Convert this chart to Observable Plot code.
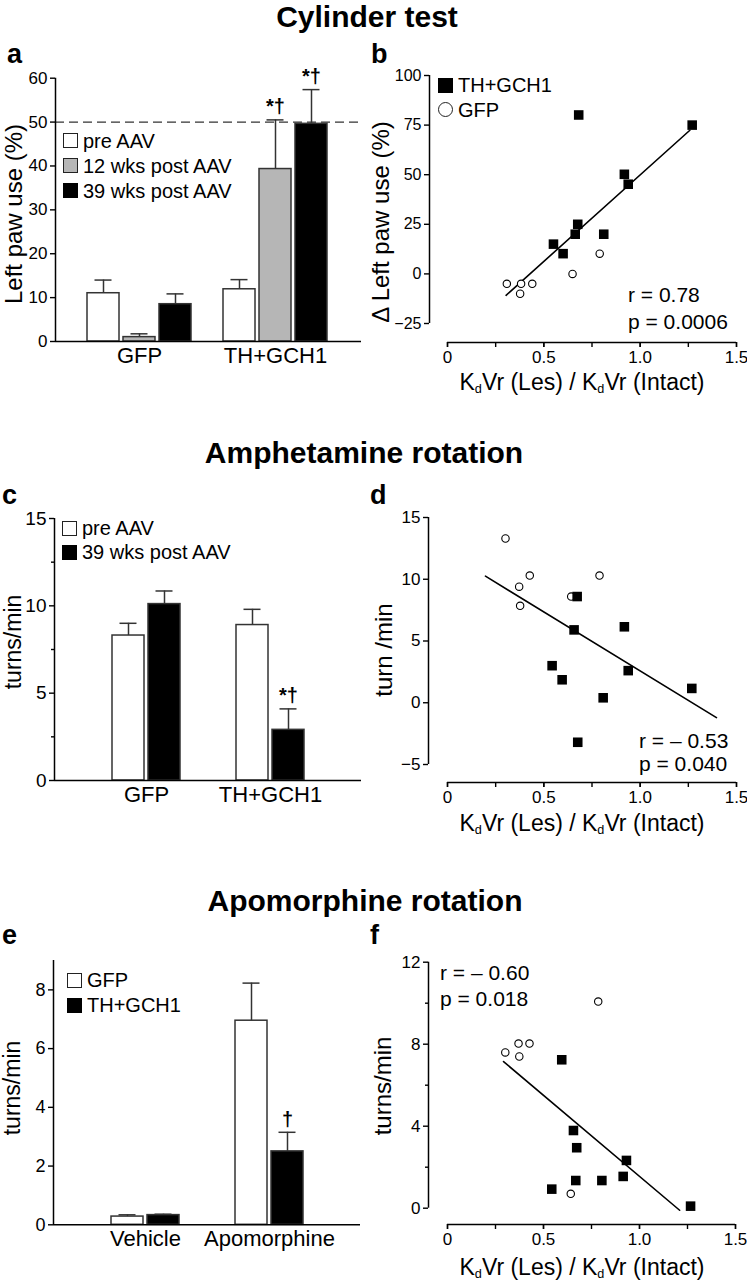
<!DOCTYPE html>
<html><head><meta charset="utf-8">
<script src="https://cdn.jsdelivr.net/npm/d3@7"></script>
<script src="https://cdn.jsdelivr.net/npm/@observablehq/plot@0.6"></script>
<style>
body{margin:0;background:#fff;}
#root{position:relative;width:747px;height:1280px;font-family:"Liberation Sans",Arial,Helvetica,sans-serif;color:#000;overflow:hidden;background:#fff}
.abs{position:absolute;white-space:nowrap;line-height:1}
.title{font-weight:bold;font-size:30px;transform:translateX(-50%)}
.letter{font-weight:bold;font-size:27px}
.ylab{font-size:24px;transform:translate(-50%,-50%) rotate(-90deg)}
.ylab.sm{font-size:23px}
.xlab{font-size:23px;transform:translate(-50%,-50%)}
.xlab sub{font-size:0.55em;vertical-align:-0.3em;line-height:0}
.stat{font-size:21px;transform:translateY(-50%)}
.legrow{display:flex;align-items:center;font-size:20px;line-height:1}
.sw{display:inline-block;width:15px;height:15px;box-sizing:border-box;border:1.5px solid #222;margin-right:5px;flex:none}
#root svg{position:absolute}
</style></head>
<body><div id="root"></div>
<script>
// ---------- DATA ----------
// Cylinder test (panel a)
const cylGroups = ["GFP", "TH+GCH1"];
const cylSeries = ["pre AAV", "12 wks post AAV", "39 wks post AAV"];
const cylMeanGFP = [11.0, 1.0, 8.5];
const cylMeanTH = [11.9, 39.3, 49.6];
const cylSemGFP = [3.0, 0.75, 2.35];
const cylSemTH = [2.2, 11.2, 7.8];
const cylSigGFP = ["", "", ""];
const cylSigTH = ["", "*†", "*†"];
const cylTicks = [0, 10, 20, 30, 40, 50, 60];
const cylRef = 50;
// panel b
const cylThX = [0.681, 1.270, 0.918, 0.938, 0.676, 0.663, 0.811, 0.550, 0.600];
const cylThY = [80.1, 75.0, 50.2, 45.2, 25.0, 20.0, 20.0, 15.0, 10.2];
const cylGfpX = [0.790, 0.649, 0.308, 0.382, 0.440, 0.377];
const cylGfpY = [10.2, 0.0, -5.0, -5.0, -5.0, -10.0];
const cylFitX = [0.304, 1.258];
const cylFitY = [-10.8, 72.4];
const cylScatterTicks = [-25, 0, 25, 50, 75, 100];

// Amphetamine rotation (panel c)
const amphGroups = ["GFP", "TH+GCH1"];
const amphSeries = ["pre AAV", "39 wks post AAV"];
const amphMeanGFP = [8.3, 10.1];
const amphMeanTH = [8.9, 2.9];
const amphSemGFP = [0.7, 0.75];
const amphSemTH = [0.9, 1.2];
const amphSigGFP = ["", ""];
const amphSigTH = ["", "*†"];
const amphTicks = [0, 5, 10, 15];
const amphMinorTicks = [2.5, 7.5, 12.5];
// panel d
const amphThX = [0.673, 0.657, 0.918, 0.543, 0.595, 0.938, 0.808, 1.268, 0.676];
const amphThY = [8.6, 5.9, 6.15, 3.0, 1.86, 2.6, 0.4, 1.16, -3.2];
const amphGfpX = [0.301, 0.372, 0.427, 0.377, 0.642, 0.789];
const amphGfpY = [13.3, 9.4, 10.3, 7.85, 8.6, 10.3];
const amphFitX = [0.197, 1.396];
const amphFitY = [10.25, -1.2];
const amphScatterTicks = [-5, 0, 5, 10, 15];

// Apomorphine rotation (panel e)
const apoGroups = ["Vehicle", "Apomorphine"];
const apoSeries = ["GFP", "TH+GCH1"];
const apoMeanVehicle = [0.28, 0.33];
const apoMeanApo = [6.95, 2.5];
const apoSemVehicle = [0.06, 0.03];
const apoSemApo = [1.28, 0.65];
const apoSigVehicle = ["", ""];
const apoSigApo = ["", "†"];
const apoTicks = [0, 2, 4, 6, 8];
// panel f
const apoThX = [0.595, 0.656, 0.673, 0.932, 0.915, 0.668, 0.804, 0.543, 1.266];
const apoThY = [7.24, 3.79, 2.95, 2.33, 1.55, 1.35, 1.35, 0.93, 0.1];
const apoGfpX = [0.785, 0.301, 0.370, 0.427, 0.374, 0.642];
const apoGfpY = [10.08, 7.6, 8.03, 8.03, 7.4, 0.7];
const apoFitX = [0.292, 1.209];
const apoFitY = [7.15, -0.1];
const apoScatterTicks = [0, 4, 8, 12];
const apoScatterMinor = [2, 6, 10];

const ratioTicks = [0, 0.5, 1.0, 1.5];
const ratioMinorTicks = [0, 0.25, 0.5, 0.75, 1.0, 1.25, 1.5];

// ---------- HELPERS ----------
const root = document.getElementById("root");
const FONT = '"Liberation Sans", Arial, Helvetica, sans-serif';

function addText(html, cls, x, y) {
  const d = document.createElement("div");
  d.className = "abs " + cls;
  d.style.left = x + "px";
  d.style.top = y + "px";
  d.innerHTML = html;
  root.appendChild(d);
  return d;
}

function addLegend(x, y, rowH, items) {
  const box = document.createElement("div");
  box.className = "abs";
  box.style.left = x + "px";
  box.style.top = y + "px";
  items.forEach(it => {
    const row = document.createElement("div");
    row.className = "legrow";
    row.style.height = rowH + "px";
    const sw = document.createElement("span");
    sw.className = "sw";
    sw.style.background = it.fill;
    if (it.circle) sw.style.borderRadius = "50%";
    if (it.fill === "#000000") sw.style.borderColor = "#000";
    row.appendChild(sw);
    const t = document.createElement("span");
    t.textContent = it.label;
    row.appendChild(t);
    box.appendChild(row);
  });
  root.appendChild(box);
}

function place(svg, left, top) {
  svg.style.position = "absolute";
  svg.style.left = left + "px";
  svg.style.top = top + "px";
  svg.style.background = "transparent";
  svg.style.overflow = "visible";
  root.appendChild(svg);
}

function barPanel(o) {
  const groupPx = o.centers[1] - o.centers[0];
  const lo = -(o.centers[0] - o.frameX[0]) / groupPx;
  const hi = 1 + (o.frameX[1] - o.centers[1]) / groupPx;
  const stepU = o.barStep / groupPx, wU = o.barWidth / groupPx, capU = o.cap / groupPx;
  const nS = o.series.length;
  const rows = [];
  o.groups.forEach((g, gi) => o.series.forEach((s, si) => rows.push({
    group: g, series: s, gi, si, value: o.means[gi][si], err: o.sems[gi][si], sig: o.sig[gi][si]
  })));
  const cx = d => d.gi + (d.si - (nS - 1) / 2) * stepU;
  const top = d => d.value + d.err;
  const [yLo, yHi] = o.yDomain;
  const marks = [];
  if (o.ref != null) marks.push(Plot.ruleY([o.ref], {x1: lo, x2: hi, stroke: "#333", strokeWidth: 1.3, strokeDasharray: "9,5"}));
  marks.push(
    Plot.rect(rows, {x1: d => cx(d) - wU / 2, x2: d => cx(d) + wU / 2, y1: d => yLo, y2: "value", fill: "series", stroke: "#333", strokeWidth: 1.5}),
    Plot.ruleX(rows, {x: cx, y1: "value", y2: top, stroke: "#333", strokeWidth: 1.5}),
    Plot.ruleY(rows, {y: top, x1: d => cx(d) - capU / 2, x2: d => cx(d) + capU / 2, stroke: "#333", strokeWidth: 1.5}),
    Plot.text(rows.filter(d => d.sig), {x: cx, y: top, text: "sig", dy: -13, fontSize: 20, fontWeight: "bold"}),
    Plot.ruleX([lo], {y1: yLo, y2: yHi, stroke: "#000", strokeWidth: 1.5}),
    Plot.ruleY([yLo], {x1: lo, x2: hi, stroke: "#000", strokeWidth: 1.5}),
    Plot.axisY({ticks: o.yTicks, tickSize: 5, tickPadding: 3, fontSize: o.tickFont, label: null, strokeWidth: 1.4}),
    Plot.axisX({ticks: o.groups.map((g, i) => i), tickFormat: i => o.groups[i], tickSize: 0, tickPadding: 6, fontSize: 22, label: null})
  );
  if (o.yMinor) marks.push(Plot.axisY({ticks: o.yMinor, tickSize: 3, tickFormat: () => "", label: null, strokeWidth: 1.4}));
  const svg = Plot.plot({
    width: o.width, height: o.height,
    marginLeft: o.frameX[0] - o.left,
    marginRight: o.left + o.width - o.frameX[1],
    marginTop: o.frameY[0] - o.top,
    marginBottom: o.top + o.height - o.frameY[1],
    x: {domain: [lo, hi]},
    y: {domain: o.yDomain},
    color: {domain: o.series, range: o.fills},
    style: {fontFamily: FONT, color: "#000", background: "transparent", overflow: "visible"},
    marks
  });
  place(svg, o.left, o.top);
}

function scatterPanel(o) {
  const insetLeft = o.x0px - o.axisPx;
  const insetBottom = o.xAxisPx - o.yBotPx;
  const [yLo, yHi] = o.yDomain;
  const th = o.thX.map((x, i) => ({x, y: o.thY[i]}));
  const gfp = o.gfpX.map((x, i) => ({x, y: o.gfpY[i]}));
  const fit = o.fitX.map((x, i) => ({x, y: o.fitY[i]}));
  const marks = [
    Plot.ruleX([0], {y1: yLo, y2: yHi, dx: -insetLeft, stroke: "#000", strokeWidth: 1.5}),
    Plot.ruleY([yLo], {x1: 0, x2: 1.5, dy: insetBottom, stroke: "#000", strokeWidth: 1.5}),
    Plot.axisY({ticks: o.yTicks, tickSize: 5, tickPadding: 3, fontSize: o.tickFont, label: null, strokeWidth: 1.4}),
    Plot.axisX({ticks: ratioMinorTicks, tickSize: 5, tickFormat: () => "", label: null, strokeWidth: 1.4}),
    Plot.axisX({ticks: ratioTicks, tickSize: 5, tickPadding: 3, tickFormat: d => d === 0 ? "0" : d.toFixed(1), fontSize: 17, label: null, strokeWidth: 1.4}),
    Plot.line(fit, {x: "x", y: "y", stroke: "#000", strokeWidth: 1.6}),
    Plot.dot(gfp, {x: "x", y: "y", r: 3.7, fill: "white", stroke: "#000", strokeWidth: 1.1}),
    Plot.dot(th, {x: "x", y: "y", r: 5.4, symbol: "square", fill: "#000"})
  ];
  if (o.yMinor) marks.push(Plot.axisY({ticks: o.yMinor, tickSize: 3, tickFormat: () => "", label: null, strokeWidth: 1.4}));
  const svg = Plot.plot({
    width: o.width, height: o.height,
    marginLeft: o.axisPx - o.left,
    marginRight: o.left + o.width - o.x15px,
    marginTop: o.yTopPx - o.top,
    marginBottom: o.top + o.height - o.xAxisPx,
    x: {domain: [0, 1.5], insetLeft},
    y: {domain: o.yDomain, insetBottom},
    style: {fontFamily: FONT, color: "#000", background: "transparent", overflow: "visible"},
    marks
  });
  place(svg, o.left, o.top);
}

// ---------- TITLES / LETTERS ----------
addText("Cylinder test", "title", 367, 2);
addText("Amphetamine rotation", "title", 364, 438);
addText("Apomorphine rotation", "title", 365, 886);
addText("a", "letter", 7, 41);
addText("b", "letter", 371, 41);
addText("c", "letter", 2, 482);
addText("d", "letter", 370, 482);
addText("e", "letter", 2, 922);
addText("f", "letter", 370, 922);

// ---------- PANELS ----------
const barFills3 = ["#ffffff", "#b6b6b6", "#000000"];
const barFills2 = ["#ffffff", "#000000"];

barPanel({
  left: 0, top: 40, width: 370, height: 345,
  frameX: [55, 361], frameY: [77.7, 341],
  centers: [139, 275], barStep: 36, barWidth: 32, cap: 17, tickFont: 17,
  groups: cylGroups, series: cylSeries,
  means: [cylMeanGFP, cylMeanTH], sems: [cylSemGFP, cylSemTH], sig: [cylSigGFP, cylSigTH],
  fills: barFills3, yDomain: [0, 60], yTicks: cylTicks, ref: cylRef
});

scatterPanel({
  left: 370, top: 60, width: 377, height: 310,
  axisPx: 429, x0px: 447, x15px: 736, yTopPx: 75, yBotPx: 323, xAxisPx: 342, tickFont: 16,
  yDomain: [-25, 100], yTicks: cylScatterTicks,
  thX: cylThX, thY: cylThY, gfpX: cylGfpX, gfpY: cylGfpY, fitX: cylFitX, fitY: cylFitY
});

barPanel({
  left: 0, top: 500, width: 370, height: 330,
  frameX: [54, 361], frameY: [518, 780],
  centers: [146, 270], barStep: 36, barWidth: 32, cap: 17, tickFont: 19,
  groups: amphGroups, series: amphSeries,
  means: [amphMeanGFP, amphMeanTH], sems: [amphSemGFP, amphSemTH], sig: [amphSigGFP, amphSigTH],
  fills: barFills2, yDomain: [0, 15], yTicks: amphTicks, yMinor: amphMinorTicks
});

scatterPanel({
  left: 370, top: 500, width: 377, height: 310,
  axisPx: 428, x0px: 447, x15px: 736, yTopPx: 517, yBotPx: 764, xAxisPx: 782, tickFont: 17,
  yDomain: [-5, 15], yTicks: amphScatterTicks,
  thX: amphThX, thY: amphThY, gfpX: amphGfpX, gfpY: amphGfpY, fitX: amphFitX, fitY: amphFitY
});

barPanel({
  left: 0, top: 940, width: 370, height: 330,
  frameX: [53, 360], frameY: [960, 1224.3],
  centers: [145, 269], barStep: 36, barWidth: 32, cap: 17, tickFont: 18,
  groups: apoGroups, series: apoSeries,
  means: [apoMeanVehicle, apoMeanApo], sems: [apoSemVehicle, apoSemApo], sig: [apoSigVehicle, apoSigApo],
  fills: barFills2, yDomain: [0, 9], yTicks: apoTicks
});

scatterPanel({
  left: 370, top: 940, width: 377, height: 310,
  axisPx: 428, x0px: 447, x15px: 735, yTopPx: 961.7, yBotPx: 1207.7, xAxisPx: 1224, tickFont: 17,
  yDomain: [0, 12], yTicks: apoScatterTicks, yMinor: apoScatterMinor,
  thX: apoThX, thY: apoThY, gfpX: apoGfpX, gfpY: apoGfpY, fitX: apoFitX, fitY: apoFitY
});

// ---------- AXIS TITLES ----------
const kd = "K<sub>d</sub>Vr (Les) / K<sub>d</sub>Vr (Intact)";
addText("Left paw use (%)", "ylab", 14, 214);
addText("Δ Left paw use (%)", "ylab", 381, 222);
addText("turns/min", "ylab sm", 12.5, 642);
addText("turn /min", "ylab", 384, 650);
addText("turns/min", "ylab sm", 12, 1088);
addText("turns/min", "ylab", 383, 1086);
addText(kd, "xlab", 582, 382);
addText(kd, "xlab", 582, 823);
addText(kd, "xlab", 582, 1267);

// ---------- STATS ----------
addText("r = 0.78", "stat", 628, 294);
addText("p = 0.0006", "stat", 628, 321);
addText("r = – 0.53", "stat", 639, 740);
addText("p = 0.040", "stat", 639, 763);
addText("r = – 0.60", "stat", 440, 972);
addText("p = 0.018", "stat", 440, 998);

// ---------- LEGENDS ----------
addLegend(63, 128, 25, cylSeries.map((s, i) => ({label: s, fill: barFills3[i]})));
addLegend(438, 73, 24.5, [{label: "TH+GCH1", fill: "#000000"}, {label: "GFP", fill: "#ffffff", circle: true}]);
addLegend(62, 516, 24, amphSeries.map((s, i) => ({label: s, fill: barFills2[i]})));
addLegend(67, 967.5, 25, apoSeries.map((s, i) => ({label: s, fill: barFills2[i]})));
</script>
</body></html>
